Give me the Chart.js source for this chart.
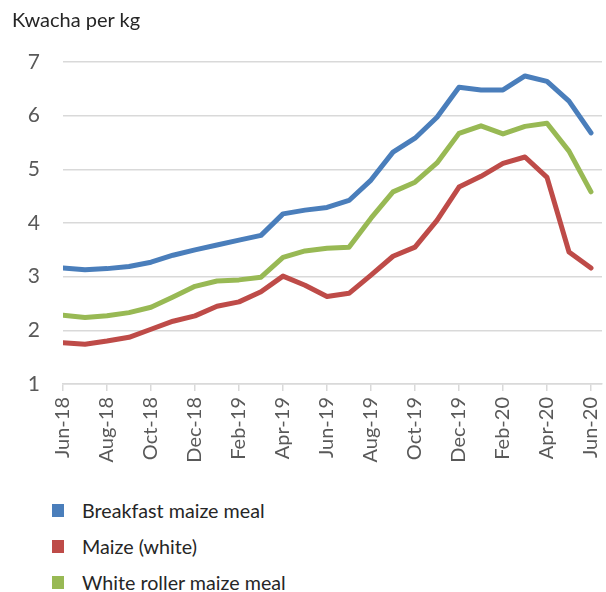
<!DOCTYPE html>
<html>
<head>
<meta charset="utf-8">
<script src="https://cdn.jsdelivr.net/npm/chart.js@4.4.1/dist/chart.umd.min.js"></script>
<style>
  body { margin: 0; background: #fff; font-family: Lato, sans-serif; }
  #wrap { position: relative; width: 606px; height: 592px; }
  #title { position: absolute; left: 12px; top: 9px; font-size: 20px; line-height: 20px; color: #262626; }
  #line-chart { position: absolute; left: 0; top: 0; }
  #legend { position: absolute; left: 52px; top: 492px; }
  .item { height: 36px; display: flex; align-items: center; font-size: 19.7px; color: #262626; }
  .swatch { width: 12px; height: 13px; margin-right: 18px; }
</style>
</head>
<body>
<div id="wrap">
  <canvas id="line-chart" width="606" height="480"></canvas>
  <div id="title">Kwacha per kg</div>
  <div id="legend"></div>
</div>
<script>
// monthly prices, Jun-18 .. Jun-20
const months = ['Jun-18','Jul-18','Aug-18','Sep-18','Oct-18','Nov-18','Dec-18',
  'Jan-19','Feb-19','Mar-19','Apr-19','May-19','Jun-19','Jul-19','Aug-19','Sep-19',
  'Oct-19','Nov-19','Dec-19','Jan-20','Feb-20','Mar-20','Apr-20','May-20','Jun-20'];

const breakfast = [3.16, 3.13, 3.15, 3.19, 3.27, 3.40, 3.50, 3.59, 3.68, 3.77, 4.17, 4.24, 4.29,
  4.42, 4.80, 5.32, 5.58, 5.97, 6.53, 6.48, 6.48, 6.74, 6.64, 6.27, 5.68];
const maize = [1.77, 1.74, 1.80, 1.87, 2.02, 2.17, 2.27, 2.45, 2.53, 2.72, 3.01, 2.84, 2.63,
  2.69, 3.03, 3.38, 3.55, 4.05, 4.67, 4.87, 5.11, 5.23, 4.85, 3.46, 3.16];
const roller = [2.28, 2.24, 2.27, 2.33, 2.43, 2.62, 2.82, 2.92, 2.94, 2.99, 3.36, 3.48, 3.53,
  3.55, 4.09, 4.58, 4.76, 5.12, 5.67, 5.81, 5.66, 5.80, 5.86, 5.34, 4.58];

const yTicks = [1, 2, 3, 4, 5, 6, 7];

const seriesNames = ['Breakfast maize meal', 'Maize (white)', 'White roller maize meal'];
const seriesColors = ['#4a7ebb', '#be4b48', '#98b954'];
const seriesData = [breakfast, maize, roller];

const gridColor = '#d9d9d9';

function drawChart() {
  const ctx = document.getElementById('line-chart');
  new Chart(ctx, {
    type: 'line',
    data: {
      datasets: seriesData.map((vals, k) => ({
        label: seriesNames[k],
        data: vals.map((v, i) => ({ x: i, y: v })),
        borderColor: seriesColors[k],
        backgroundColor: seriesColors[k],
        borderWidth: 5,
        pointRadius: 0,
        tension: 0,
        borderJoinStyle: 'round',
        borderCapStyle: 'round',
        fill: false
      }))
    },
    options: {
      responsive: false,
      animation: false,
      devicePixelRatio: 1,
      layout: { padding: { top: 62, right: 4, left: 0, bottom: 0 } },
      plugins: {
        legend: { display: false },
        tooltip: { enabled: false },
        title: { display: false }
      },
      scales: {
        x: {
          type: 'linear',
          min: 0,
          max: 24.5,
          afterFit: s => {
            s.height = 96;
            // let the axis run to the right edge like the original
            s.paddingRight = 0;
            s.paddingLeft = 0;
          },
          grid: {
            drawOnChartArea: false,
            tickLength: 7,
            lineWidth: 1.5,
            color: c => (c.tick && c.tick.value % 2 === 0) ? gridColor : 'rgba(0,0,0,0)'
          },
          border: { display: true, color: gridColor, width: 1.5 },
          ticks: {
            stepSize: 1,
            includeBounds: false,
            autoSkip: false,
            minRotation: 90,
            maxRotation: 90,
            padding: 6,
            color: '#595959',
            font: { family: 'Lato', size: 20 },
            callback: v => (v % 2 === 0 && months[v]) ? months[v] : ''
          }
        },
        y: {
          min: 1,
          max: 7,
          afterFit: s => { s.width = 63; },
          afterBuildTicks: s => { s.ticks = yTicks.map(v => ({ value: v })); },
          grid: { color: gridColor, lineWidth: 1.5, drawTicks: false },
          border: { display: false },
          ticks: {
            padding: 23,
            color: '#595959',
            font: { family: 'Lato', size: 21 }
          }
        }
      }
    }
  });
}

function drawLegend() {
  const box = document.getElementById('legend');
  seriesNames.forEach((name, k) => {
    const row = document.createElement('div');
    row.className = 'item';
    const sw = document.createElement('span');
    sw.className = 'swatch';
    sw.style.background = seriesColors[k];
    row.appendChild(sw);
    row.appendChild(document.createTextNode(name));
    box.appendChild(row);
  });
}

drawChart();
drawLegend();
</script>
</body>
</html>
